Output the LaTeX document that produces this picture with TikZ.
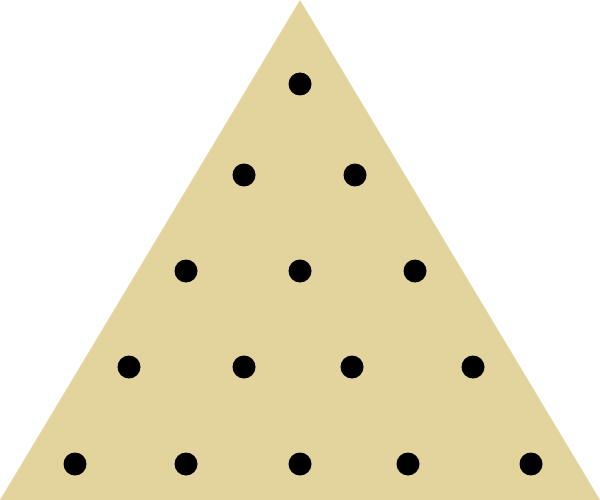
\documentclass[tikz,border=0pt]{standalone}
\definecolor{sand}{HTML}{E3D49E}
\tikzset{peg/.style={circle,fill=black,inner sep=0pt,minimum size=23pt}}
\begin{document}
\begin{tikzpicture}[x=1pt,y=-1pt]
\useasboundingbox (0,0) rectangle (600,500);
\coordinate (L) at (0,500);
\coordinate (R) at (600,500);
\coordinate (T) at (300,0);
\fill[sand] (L) -- (T) -- (R) -- cycle;
\node[peg] (p1) at (300,84) {};
\node[peg] (p2) at (244,175) {};
\node[peg] (p3) at (355,175) {};
\node[peg] (p4) at (186,271) {};
\node[peg] (p5) at (300,271) {};
\node[peg] (p6) at (415,271) {};
\node[peg] (p7) at (129,367) {};
\node[peg] (p8) at (244,367) {};
\node[peg] (p9) at (352,367) {};
\node[peg] (p10) at (473,367) {};
\node[peg] (p11) at (75,464) {};
\node[peg] (p12) at (186,464) {};
\node[peg] (p13) at (300,464) {};
\node[peg] (p14) at (408,464) {};
\node[peg] (p15) at (531,464) {};
\end{tikzpicture}
\end{document}
